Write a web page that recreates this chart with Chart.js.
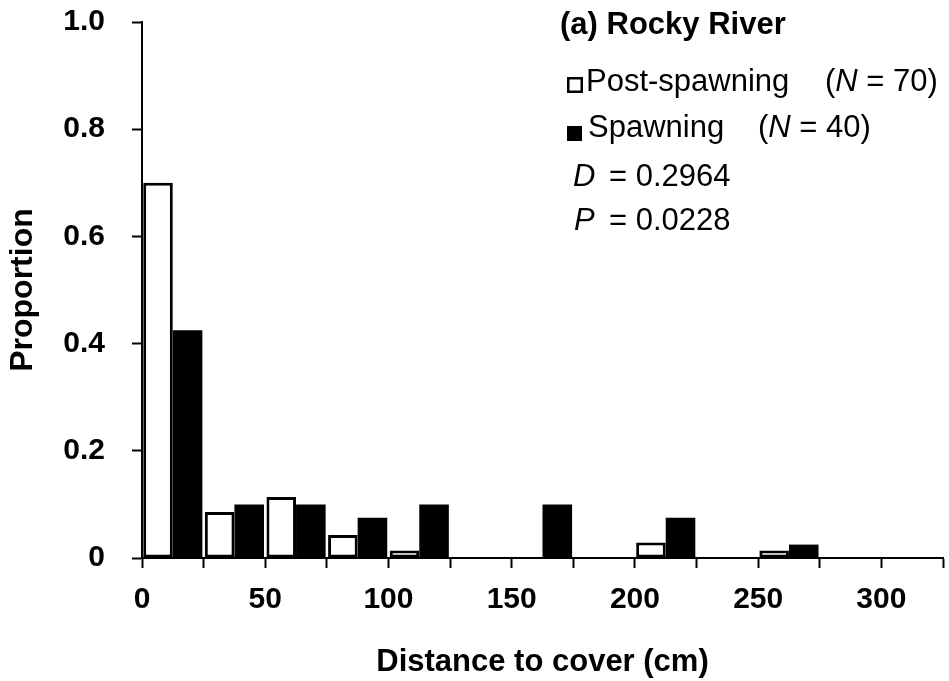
<!DOCTYPE html>
<html>
<head>
<meta charset="utf-8">
<script src="https://cdn.jsdelivr.net/npm/chart.js@4.4.1/dist/chart.umd.min.js"></script>
<style>
  html, body { margin: 0; padding: 0; background: #fff; }
  #wrap { width: 949px; height: 681px; }
</style>
</head>
<body>
<div id="wrap"><canvas id="chart" width="949" height="681"></canvas></div>
<script>
// distance bins (cm): lower edges, each bin 25 cm wide
const binStarts = [0, 25, 50, 75, 100, 125, 150, 175, 200, 225, 250];
const binWidth = 25;
// proportion of fish per bin
const postSpawning = [0.700, 0.086, 0.114, 0.043, 0.014, 0, 0, 0, 0.029, 0, 0.014];
const spawning     = [0.425, 0.100, 0.100, 0.075, 0.100, 0, 0.100, 0, 0.075, 0, 0.025];
// labelled ticks
const xTickLabels = [0, 50, 100, 150, 200, 250, 300];
const yTickLabels = ['0', '0.2', '0.4', '0.6', '0.8', '1.0'];

const FONT = '"Liberation Sans", Arial, sans-serif';

function toPoints(values) {
  return values.map((v, i) => ({ x: binStarts[i] + binWidth / 2, y: v }));
}

// draw a row of text pieces, some italic, one after another
function runs(ctx, x, y, parts) {
  for (const [text, italic] of parts) {
    ctx.font = (italic ? 'italic ' : '') + '31px ' + FONT;
    ctx.fillText(text, x, y);
    x += ctx.measureText(text).width;
  }
}

const notes = {
  id: 'notes',
  afterDraw(chart) {
    const ctx = chart.ctx;
    ctx.save();
    ctx.fillStyle = '#000';
    ctx.strokeStyle = '#000';
    ctx.textBaseline = 'alphabetic';
    ctx.textAlign = 'left';

    ctx.font = 'bold 31px ' + FONT;
    ctx.fillText('(a) Rocky River', 560, 34);

    // legend keys
    ctx.lineWidth = 2.5;
    ctx.strokeRect(568.25, 78.25, 13.5, 13.5);
    ctx.fillRect(567, 126, 15, 15);

    runs(ctx, 586, 91, [['Post-spawning']]);
    runs(ctx, 825, 91, [['('], ['N', true], [' = 70)']]);
    runs(ctx, 588, 137, [['Spawning']]);
    runs(ctx, 758, 137, [['('], ['N', true], [' = 40)']]);

    // KS test result
    runs(ctx, 573, 186, [['D', true]]);
    runs(ctx, 609, 186, [['= 0.2964']]);
    runs(ctx, 574, 230, [['P', true]]);
    runs(ctx, 609, 230, [['= 0.0228']]);
    ctx.restore();
  }
};

const axisGrid = {
  display: true,
  offset: false,
  drawOnChartArea: false,
  drawTicks: true,
  tickLength: 10,
  tickWidth: 2,
  tickColor: '#000',
  color: '#000'
};

new Chart(document.getElementById('chart'), {
  type: 'bar',
  data: {
    datasets: [
      {
        label: 'Post-spawning',
        data: toPoints(postSpawning),
        backgroundColor: '#fff',
        borderColor: '#000',
        borderWidth: 3,
        borderSkipped: false
      },
      {
        label: 'Spawning',
        data: toPoints(spawning),
        backgroundColor: '#000',
        borderWidth: 0
      }
    ]
  },
  options: {
    responsive: false,
    animation: false,
    devicePixelRatio: 1,
    categoryPercentage: 0.96,
    barPercentage: 1,
    layout: { padding: { top: 22, right: 6, left: 0, bottom: 0 } },
    plugins: {
      legend: { display: false },
      tooltip: { enabled: false }
    },
    scales: {
      x: {
        type: 'linear',
        offset: false,
        min: 0,
        max: 325,
        grid: axisGrid,
        border: { display: true, color: '#000', width: 2 },
        ticks: {
          stepSize: 25,
          autoSkip: false,
          maxRotation: 0,
          padding: 14,
          color: '#000',
          font: { family: FONT, size: 30, weight: 'bold' },
          callback: v => xTickLabels.includes(v) ? String(v) : ''
        },
        title: {
          display: true,
          text: 'Distance to cover (cm)',
          color: '#000',
          font: { family: FONT, size: 31, weight: 'bold', lineHeight: 1.2 },
          padding: { top: 0, bottom: 0 }
        },
        afterFit(scale) {
          scale.height = 123;
          scale.paddingLeft = 0;
          scale.paddingRight = 0;
        }
      },
      y: {
        min: 0,
        max: 1,
        grid: axisGrid,
        border: { display: true, color: '#000', width: 2 },
        ticks: {
          stepSize: 0.2,
          padding: 27,
          color: '#000',
          font: { family: FONT, size: 30, weight: 'bold' },
          callback: (v, i) => yTickLabels[i]
        },
        title: {
          display: true,
          text: 'Proportion',
          color: '#000',
          font: { family: FONT, size: 32, weight: 'bold', lineHeight: 1.2 },
          padding: { top: 4, bottom: 0 }
        },
        afterFit(scale) {
          scale.width = 142;
          scale.paddingTop = 0;
          scale.paddingBottom = 0;
        }
      }
    }
  },
  plugins: [notes]
});
</script>
</body>
</html>
